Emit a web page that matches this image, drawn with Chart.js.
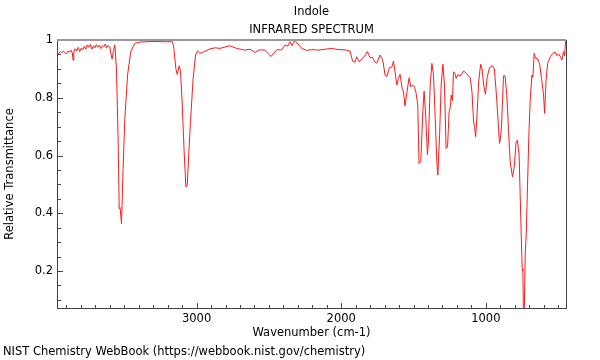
<!DOCTYPE html>
<html>
<head>
<meta charset="utf-8">
<script src="https://cdn.jsdelivr.net/npm/chart.js@4.4.1/dist/chart.umd.min.js"></script>
<style>
    html, body { margin: 0; padding: 0; background: #fff; }
    #chart { display: block; }
</style>
</head>
<body>
<canvas id="chart" width="600" height="360"></canvas>
<script>
// spectrum (wavenumber in cm-1, relative transmittance)
const wavenumbers = [
    3963, 3953, 3942, 3932, 3922, 3911, 3901, 3891, 3880, 3870, 3859, 3854, 3849, 3839, 3828,
    3818, 3808, 3797, 3787, 3776, 3766, 3756, 3745, 3735, 3724, 3714, 3704, 3693, 3683, 3673,
    3662, 3652, 3641, 3631, 3621, 3610, 3600, 3593, 3584, 3576, 3565, 3554, 3543, 3535, 3529,
    3519, 3508, 3496, 3477, 3455, 3427, 3392, 3289, 3219, 3166, 3157, 3143, 3134, 3120, 3111,
    3100, 3086, 3074, 3065, 3051, 3042, 3024, 3007, 2993, 2977, 2954, 2908, 2873, 2839, 2770,
    2723, 2687, 2666, 2631, 2597, 2562, 2527, 2486, 2446, 2412, 2389, 2372, 2354, 2340, 2325,
    2306, 2273, 2239, 2204, 2161, 2066, 2022, 1974, 1939, 1927, 1920, 1905, 1893, 1875, 1856,
    1835, 1819, 1801, 1783, 1766, 1754, 1731, 1713, 1697, 1685, 1667, 1650, 1639, 1628, 1616,
    1605, 1593, 1579, 1570, 1559, 1547, 1531, 1519, 1505, 1494, 1482, 1471, 1462, 1450, 1436,
    1427, 1415, 1404, 1397, 1385, 1373, 1362, 1350, 1339, 1332, 1320, 1309, 1297, 1286, 1275,
    1265, 1254, 1245, 1240, 1231, 1224, 1212, 1205, 1193, 1177, 1154, 1131, 1108, 1096, 1085,
    1078, 1071, 1061, 1050, 1036, 1026, 1015, 1003, 991, 975, 957, 941, 927, 915, 906,
    899, 892, 878, 867, 855, 844, 832, 816, 804, 791, 782, 770, 758, 749, 744,
    740, 735, 728, 721, 712, 702, 694, 682, 675, 666, 657, 643, 629, 615, 601,
    594, 584, 573, 555, 536, 520, 509, 498, 486, 474, 463, 456, 449,
];

const transmittance = [
    0.958, 0.953, 0.960, 0.955, 0.962, 0.957, 0.952, 0.961, 0.958, 0.965, 0.955, 0.930, 0.958, 0.970, 0.962,
    0.975, 0.960, 0.972, 0.965, 0.978, 0.968, 0.983, 0.975, 0.985, 0.968, 0.980, 0.972, 0.984, 0.975, 0.982,
    0.970, 0.980, 0.976, 0.986, 0.972, 0.982, 0.977, 0.955, 0.934, 0.960, 0.983, 0.900, 0.670, 0.416, 0.420,
    0.364, 0.555, 0.728, 0.879, 0.960, 0.988, 0.993, 0.995, 0.994, 0.994, 0.971, 0.900, 0.881, 0.911, 0.890,
    0.786, 0.613, 0.491, 0.495, 0.636, 0.717, 0.867, 0.948, 0.962, 0.954, 0.958, 0.969, 0.973, 0.971, 0.980,
    0.971, 0.967, 0.965, 0.968, 0.957, 0.966, 0.965, 0.943, 0.966, 0.966, 0.983, 0.978, 0.994, 0.980, 0.996,
    0.990, 0.971, 0.964, 0.967, 0.965, 0.971, 0.967, 0.966, 0.962, 0.937, 0.927, 0.923, 0.942, 0.925, 0.935,
    0.946, 0.960, 0.939, 0.939, 0.923, 0.920, 0.948, 0.931, 0.879, 0.873, 0.904, 0.906, 0.927, 0.890, 0.844,
    0.867, 0.881, 0.833, 0.822, 0.772, 0.815, 0.869, 0.838, 0.844, 0.838, 0.815, 0.775, 0.572, 0.578, 0.752,
    0.823, 0.728, 0.603, 0.650, 0.844, 0.919, 0.880, 0.728, 0.578, 0.532, 0.670, 0.844, 0.916, 0.844, 0.624,
    0.630, 0.752, 0.770, 0.809, 0.790, 0.890, 0.882, 0.867, 0.880, 0.875, 0.893, 0.882, 0.869, 0.821, 0.717,
    0.700, 0.665, 0.740, 0.855, 0.916, 0.900, 0.844, 0.812, 0.870, 0.904, 0.911, 0.900, 0.809, 0.717, 0.642,
    0.659, 0.700, 0.876, 0.876, 0.809, 0.694, 0.578, 0.526, 0.560, 0.647, 0.653, 0.601, 0.370, 0.208, 0.200,
    0.040, 0.040, 0.255, 0.324, 0.497, 0.682, 0.786, 0.879, 0.870, 0.954, 0.937, 0.935, 0.919, 0.867, 0.809,
    0.746, 0.860, 0.919, 0.942, 0.954, 0.958, 0.946, 0.952, 0.943, 0.931, 0.960, 0.945, 0.996,
];

const xTickLabels = [1000, 2000, 3000];
const yTickLabels = [0.2, 0.4, 0.6, 0.8, 1];

const xRange = [446, 3965];
const yRange = [0.072, 1];

const fontFamily = '"DejaVu Sans", sans-serif';
const fontSize = 11.5;
const axisColor = '#444';

function buildTicks(scale, step, digits) {
    const first = Math.ceil(scale.min / step) * step;
    const ticks = [];
    for (let v = first; v <= scale.max + 1e-9; v += step) {
        ticks.push({ value: Number(v.toFixed(digits)) });
    }
    scale.ticks = ticks;
}

// ticks in this chart point into the plot area, so they are drawn here
const innerTicks = {
    id: 'innerTicks',
    afterDraw(chart) {
        const { ctx, chartArea, scales } = chart;
        ctx.save();
        ctx.strokeStyle = axisColor;
        ctx.lineWidth = 1;
        ctx.beginPath();
        scales.x.ticks.forEach((t) => {
            const px = Math.round(scales.x.getPixelForValue(t.value)) + 0.5;
            const len = xTickLabels.includes(t.value) ? 5 : 3;
            ctx.moveTo(px, chartArea.bottom);
            ctx.lineTo(px, chartArea.bottom - len);
        });
        scales.y.ticks.forEach((t) => {
            const py = Math.round(scales.y.getPixelForValue(t.value)) + 0.5;
            const len = yTickLabels.includes(t.value) ? 6 : 4;
            ctx.moveTo(chartArea.left, py);
            ctx.lineTo(chartArea.left + len, py);
        });
        ctx.stroke();

        // frame: grey top edge, dark right edge
        ctx.beginPath();
        ctx.strokeStyle = '#999';
        ctx.lineWidth = 2;
        ctx.moveTo(chartArea.left, chartArea.top);
        ctx.lineTo(chartArea.right, chartArea.top);
        ctx.stroke();
        ctx.beginPath();
        ctx.strokeStyle = axisColor;
        ctx.lineWidth = 1;
        ctx.moveTo(chartArea.right + 0.5, chartArea.top);
        ctx.lineTo(chartArea.right + 0.5, chartArea.bottom);
        ctx.stroke();

        // titles and source line
        ctx.fillStyle = '#000';
        ctx.font = fontSize + 'px ' + fontFamily;
        ctx.textAlign = 'center';
        ctx.textBaseline = 'middle';
        const cx = (chartArea.left + chartArea.right) / 2;
        ctx.fillText('Indole', cx, 12.5);
        ctx.fillText('INFRARED SPECTRUM', cx, 30);
        ctx.textAlign = 'left';
        ctx.fillText('NIST Chemistry WebBook (https://webbook.nist.gov/chemistry)', 3, 352.5);
        ctx.restore();
    },
};

new Chart(document.getElementById('chart'), {
    type: 'line',
    data: {
        datasets: [{
            data: wavenumbers.map((x, i) => ({ x, y: transmittance[i] })),
            borderColor: '#ff1a1a',
            borderWidth: 1,
            pointRadius: 0,
            tension: 0,
        }],
    },
    options: {
        responsive: false,
        animation: false,
        devicePixelRatio: 1,
        layout: { padding: { top: 40, right: 34, left: 0, bottom: 0 } },
        plugins: {
            legend: { display: false },
            tooltip: { enabled: false },
        },
        scales: {
            x: {
                type: 'linear',
                reverse: true,
                min: xRange[0],
                max: xRange[1],
                afterBuildTicks: (scale) => buildTicks(scale, 100, 0),
                afterFit: (scale) => { scale.height = 52; },
                grid: { display: true, drawOnChartArea: false, drawTicks: false },
                border: { color: axisColor, width: 1 },
                ticks: {
                    autoSkip: false,
                    maxRotation: 0,
                    padding: 4,
                    color: '#000',
                    font: { family: fontFamily, size: fontSize },
                    callback: (v) => (xTickLabels.includes(v) ? String(v) : ''),
                },
                title: {
                    display: true,
                    text: 'Wavenumber (cm-1)',
                    color: '#000',
                    font: { family: fontFamily, size: fontSize },
                    padding: { top: 0, bottom: 20 },
                },
            },
            y: {
                min: yRange[0],
                max: yRange[1],
                afterBuildTicks: (scale) => buildTicks(scale, 0.05, 2),
                afterFit: (scale) => { scale.width = 57; },
                grid: { display: true, drawOnChartArea: false, drawTicks: false },
                border: { color: axisColor, width: 1 },
                ticks: {
                    autoSkip: false,
                    padding: 4,
                    color: '#000',
                    font: { family: fontFamily, size: fontSize },
                    callback: (v) => (yTickLabels.includes(v) ? String(v) : ''),
                },
                title: {
                    display: true,
                    text: 'Relative Transmittance',
                    color: '#000',
                    font: { family: fontFamily, size: fontSize },
                    padding: { top: 3, bottom: 0 },
                },
            },
        },
    },
    plugins: [innerTicks],
});
</script>
</body>
</html>
